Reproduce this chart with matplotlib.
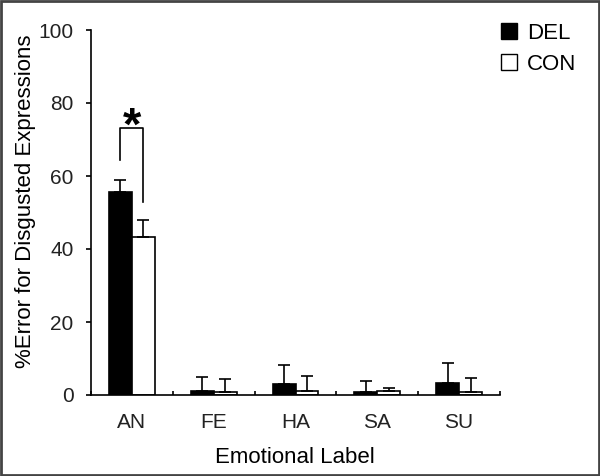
import numpy as np
import matplotlib
matplotlib.use('Agg')
import matplotlib.pyplot as plt
from matplotlib.lines import Line2D
from matplotlib.patches import Rectangle
from matplotlib import font_manager

# values
labels = ['AN', 'FE', 'HA', 'SA', 'SU']
del_mean = [55.7, 1.0, 3.0, 0.7, 3.2]
del_err = [3.2, 4.0, 5.3, 3.2, 5.5]
con_mean = [43.4, 0.7, 1.0, 1.0, 0.7]
con_err = [4.5, 3.8, 4.3, 0.9, 4.0]
sig_y = 73.2          # bracket height
sig_ends = [64.4, 53.0]

plt.rcParams['font.family'] = ['Liberation Sans', 'DejaVu Sans']
names = {f.name for f in font_manager.fontManager.ttflist}
tick_family = 'Liberation Sans Narrow' if 'Liberation Sans Narrow' in names else 'Liberation Sans'

fig = plt.figure(figsize=(6, 4.76), dpi=100)
ax = fig.add_axes([91/600, 1-395/476, 409/600, 365/476])

x = np.arange(len(labels))
w = 0.28
ax.bar(x - w/2, del_mean, w, color='black', edgecolor='black', lw=1.2, zorder=2)
ax.bar(x + w/2, con_mean, w, color='white', edgecolor='black', lw=1.2, zorder=2)
# one-sided error bars
ax.errorbar(x - w/2, del_mean, yerr=[np.zeros(5), del_err], fmt='none',
            ecolor='black', elinewidth=1.2, capsize=4, capthick=1.2, zorder=3)
ax.errorbar(x + w/2, con_mean, yerr=[np.zeros(5), con_err], fmt='none',
            ecolor='black', elinewidth=1.2, capsize=4, capthick=1.2, zorder=3)

# significance bracket
xl, xr = x[0] - w/2, x[0] + w/2
ax.plot([xl, xl, xr, xr], [sig_ends[0], sig_y, sig_y, sig_ends[1]], color='black', lw=1.2)
ax.text((xl + xr)/2, 70.0, '*', ha='center', va='baseline', fontsize=34, fontweight='bold')

ax.set_xlim(-0.5, 4.5)
ax.set_ylim(0, 100)
ax.set_yticks([0, 20, 40, 60, 80, 100])
ax.set_xticks(x)
ax.set_xticklabels(labels)
ax.set_xticks(np.arange(-0.5, 5, 1), minor=True)
for s in ['top', 'right']:
    ax.spines[s].set_visible(False)
for s in ['left', 'bottom']:
    ax.spines[s].set_linewidth(1.2)
ax.tick_params(axis='x', which='major', length=0, pad=13, labelsize=15, labelcolor='#222')
ax.tick_params(axis='x', which='minor', direction='in', length=3, width=1.2)
ax.tick_params(axis='y', direction='out', length=3.5, width=1.2, pad=9, labelsize=15, labelcolor='#222')
for t in ax.get_xticklabels() + ax.get_yticklabels():
    t.set_family(tick_family)

ax.set_xlabel('Emotional Label', fontsize=16, va='center')
ax.xaxis.set_label_coords(0.499, -0.170)
ax.set_ylabel('%Error for Disgusted Expressions', fontsize=16, va='center')
ax.yaxis.set_label_coords(-0.159, 0.53)

handles = [Line2D([], [], ls='none', marker='s', ms=11, mfc='black', mec='black'),
           Line2D([], [], ls='none', marker='s', ms=11, mfc='white', mec='black')]
fig.legend(handles, ['DEL', 'CON'], loc='center', bbox_to_anchor=(0.895, 0.897),
           frameon=False, fontsize=16, handlelength=1.0, handletextpad=0.3,
           borderpad=0, labelspacing=0.45)

# frame around the whole picture
fig.patches.append(Rectangle((0.002, 0.002), 0.996, 0.996, transform=fig.transFigure,
                             fill=False, edgecolor='#444', lw=2))

fig.savefig('out.png', dpi=100)
